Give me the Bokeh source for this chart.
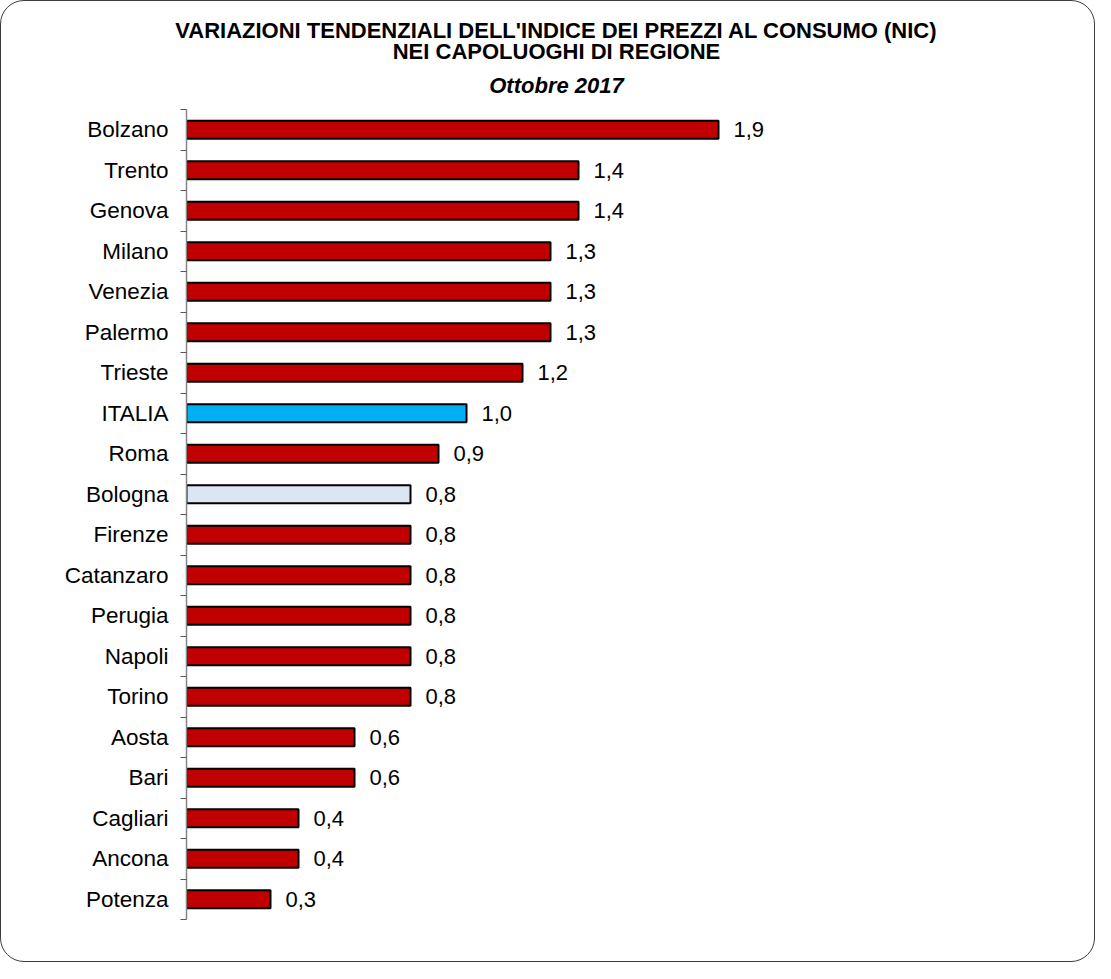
from bokeh.plotting import figure
from bokeh.models import FixedTicker, Range1d, ColumnDataSource, Title, LinearAxis
from bokeh.core.properties import value
from bokeh.embed import file_html
from bokeh.resources import INLINE

cities = ["Bolzano", "Trento", "Genova", "Milano", "Venezia", "Palermo", "Trieste",
          "ITALIA", "Roma", "Bologna", "Firenze", "Catanzaro", "Perugia", "Napoli",
          "Torino", "Aosta", "Bari", "Cagliari", "Ancona", "Potenza"]
values = [1.9, 1.4, 1.4, 1.3, 1.3, 1.3, 1.2, 1.0, 0.9, 0.8, 0.8, 0.8, 0.8, 0.8,
          0.8, 0.6, 0.6, 0.4, 0.4, 0.3]
title_lines = ["VARIAZIONI TENDENZIALI DELL'INDICE DEI PREZZI AL CONSUMO (NIC)",
               "NEI CAPOLUOGHI DI REGIONE",
               "Ottobre 2017"]

RED = "#C00000"
highlight = {"ITALIA": "#00B0F0", "Bologna": "#DCE6F2"}
FONT = "Liberation Sans"

n = len(cities)
ys = [n - 1 - i for i in range(n)]
labels = [f"{v:.1f}".replace(".", ",") for v in values]
colors = [highlight.get(c, RED) for c in cities]

src = ColumnDataSource(dict(y=ys, v=values, lab=labels, color=colors, city=cities))

W, H = 1095, 962
LEFT, RIGHT, TOP, BOTTOM = 185, 170, 108, 44
PX_PER_UNIT = 280.0
frame_w = W - LEFT - RIGHT

p = figure(width=W, height=H,
           x_range=Range1d(0, frame_w / PX_PER_UNIT),
           y_range=Range1d(-0.5, n - 0.5),
           output_backend="svg", toolbar_location=None,
           x_axis_location=None, y_axis_location=None,
           min_border_left=LEFT, min_border_right=RIGHT,
           min_border_top=TOP, min_border_bottom=BOTTOM)
p.xgrid.visible = False
p.ygrid.visible = False
p.outline_line_color = None
p.border_fill_color = None
p.background_fill_color = None
p.styles = {"border": "1.5px solid #3c3c3c", "border-radius": "24px"}

ax = LinearAxis(ticker=FixedTicker(ticks=ys, minor_ticks=[k - 0.5 for k in range(n + 1)]))
ax.major_label_overrides = {y: c for y, c in zip(ys, cities)}
ax.major_tick_line_color = None
ax.major_tick_in = 0
ax.major_tick_out = 0
ax.minor_tick_in = 0
ax.minor_tick_out = 6
ax.minor_tick_line_color = "#555555"
ax.minor_tick_line_width = 1
ax.axis_line_color = "#868686"
ax.axis_line_width = 1.5
ax.major_label_standoff = 12
ax.major_label_text_font = FONT
ax.major_label_text_font_size = "22.5px"
ax.major_label_text_color = "black"
p.add_layout(ax, "left")

p.hbar(y="y", right="v", left=0, height=0.44, fill_color="color",
       line_color="black", line_width=2, source=src)

p.text(x="v", y="y", text="lab", x_offset=15, text_baseline="middle",
       text_align="left", text_font=value(FONT), text_font_size="22px",
       text_color="black", source=src)

# title: add bottom line first so it sits nearest the frame
standoffs = [-2, -10, 24]
for i in reversed(range(len(title_lines))):
    p.add_layout(Title(text=title_lines[i], align="center",
                       text_font=FONT, text_font_size="22px",
                       text_font_style="bold italic" if i == 2 else "bold",
                       text_color="black", standoff=standoffs[i]), "above")

open("out.html", "w").write(file_html(p, INLINE))
